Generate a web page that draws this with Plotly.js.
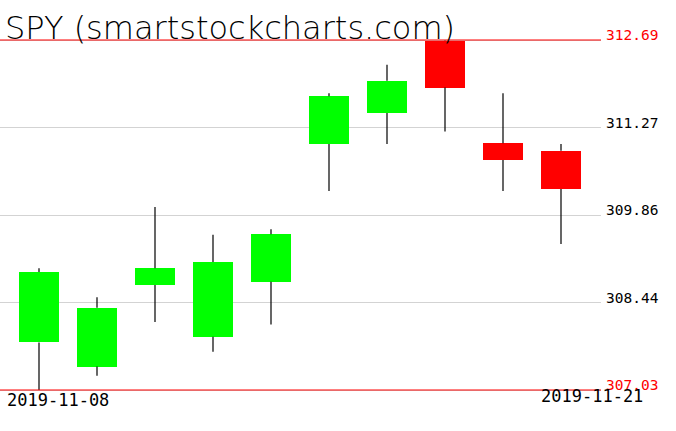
<!DOCTYPE html>
<html><head><meta charset="utf-8">
<script src="https://cdn.plot.ly/plotly-3.0.1.min.js"></script>
<style>html,body{margin:0;padding:0;background:#fff}#c{width:676px;height:431px}</style>
</head><body><div id="c"></div>
<script>
const dates = ["2019-11-08","2019-11-11","2019-11-12","2019-11-13","2019-11-14","2019-11-15","2019-11-18","2019-11-19","2019-11-20","2019-11-21"];
const openP  = [307.80,307.41,308.73,307.89,308.78,311.01,311.51,312.68,311.02,310.90];
const highP  = [309.00,308.53,309.99,309.54,309.63,311.83,312.29,312.69,311.83,311.01];
const lowP   = [307.03,307.26,308.13,307.65,308.09,310.25,311.01,311.21,310.25,309.39];
const closeP = [308.94,308.36,309.00,309.10,309.55,311.78,312.03,311.92,310.75,310.28];
const priceTicks = [307.03,308.44,309.86,311.27,312.69];
const dateLabels = ["2019-11-08","2019-11-21"];
const titleText = "SPY (smartstockcharts.com)";

const idx = dates.map((d,i)=>i);
const up = idx.map(i=>closeP[i]>=openP[i]);
const bodyBase = idx.map(i=>Math.min(openP[i],closeP[i]));
const bodyH = idx.map(i=>Math.abs(closeP[i]-openP[i]));
const bodyTop = idx.map(i=>Math.max(openP[i],closeP[i]));

const wx=[], wy=[];
idx.forEach(i=>{
  wx.push(i,i,null,i,i,null);
  wy.push(highP[i],bodyTop[i],null,bodyBase[i],lowP[i],null);
});

const traces = [
  {type:'scatter',mode:'lines',x:wx,y:wy,line:{color:'#000',width:1.2},hoverinfo:'skip',showlegend:false,connectgaps:false},
  {type:'bar',x:idx,y:bodyH,base:bodyBase,width:0.69,marker:{color:up.map(u=>u?'#00ff00':'#ff0000'),line:{width:0}},showlegend:false,hoverinfo:'skip'}
];

const lo=priceTicks[0], hi=priceTicks[priceTicks.length-1];
const pad=(hi-lo)*10/350;
const shapes=[lo,hi].map(v=>({type:'line',xref:'paper',yref:'y',x0:0,x1:1,y0:v,y1:v,line:{color:'#ff0000',width:1.2}}));

const layout = {
  width:676,height:431,
  margin:{l:0,r:75,t:30,b:31},
  paper_bgcolor:'#fff',plot_bgcolor:'#fff',
  showlegend:false,
  title:{text:titleText,font:{family:'DejaVu Sans, sans-serif',size:32,weight:200,color:'#000'},xref:'container',yref:'container',x:5/676,xanchor:'left',y:1-28/431,yanchor:'middle'},
  xaxis:{range:[-39/58,(601-39)/58],showgrid:false,zeroline:false,showticklabels:false,ticks:'',showline:false,fixedrange:true},
  yaxis:{side:'right',range:[lo-pad,hi+pad],tickvals:priceTicks,
    ticktext:priceTicks.map((v,i)=>(i===0||i===priceTicks.length-1)?'<span style="color:#ff0000">'+v.toFixed(2)+'</span>':v.toFixed(2)),
    tickfont:{family:'DejaVu Sans Mono, monospace',size:14.5,color:'#000'},
    showgrid:true,gridcolor:'#d3d3d3',gridwidth:1,zeroline:false,showline:false,ticks:'',ticklabelstandoff:4,ticklabelshift:-5,fixedrange:true},
  shapes:shapes,
  annotations:[
    {text:dateLabels[0],xref:'paper',yref:'paper',x:5/601,y:0,xanchor:'left',yanchor:'middle',yshift:0,showarrow:false,font:{family:'DejaVu Sans Mono, monospace',size:17,color:'#000'}},
    {text:dateLabels[1],xref:'paper',yref:'paper',x:645/601,y:0,xanchor:'right',yanchor:'middle',yshift:4,showarrow:false,font:{family:'DejaVu Sans Mono, monospace',size:17,color:'#000'}}
  ],
  bargap:0
};
Plotly.newPlot('c',traces,layout,{staticPlot:true,displayModeBar:false});
</script></body></html>
